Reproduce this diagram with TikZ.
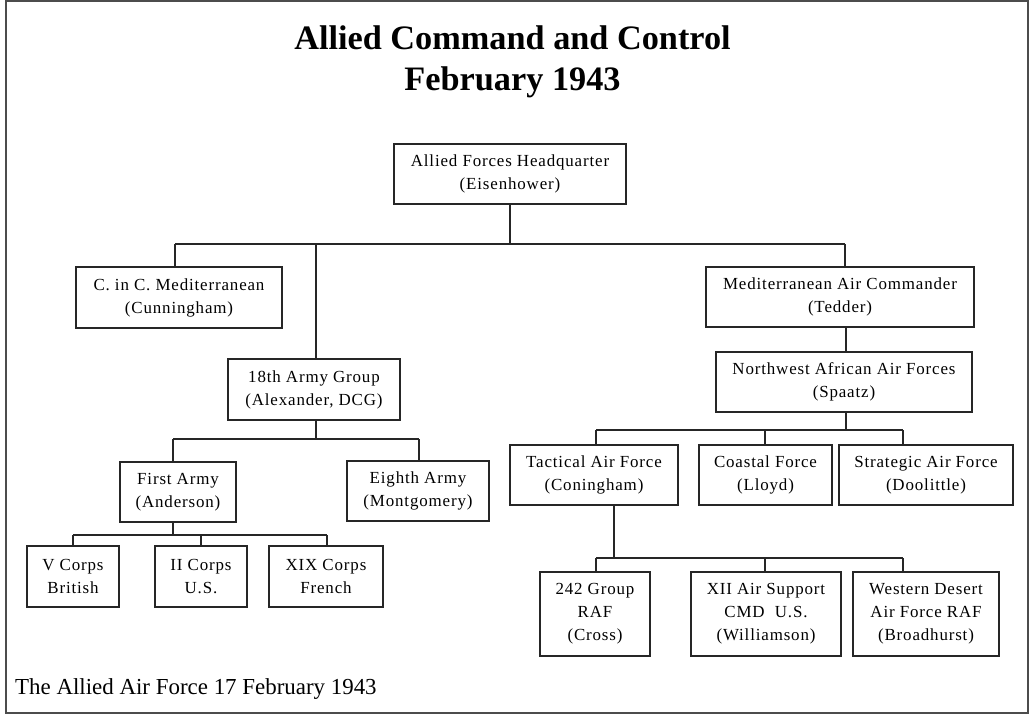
\documentclass[tikz,border=0pt]{standalone}
\usepackage{fontspec}
\setmainfont{Liberation Serif}
\newfontfamily\boxfont[LetterSpace=5]{Liberation Serif}
\begin{document}
\begin{tikzpicture}[x=1bp,y=-1bp,
  orgbox/.style={draw=black!85, line width=1.3bp, align=center, inner sep=0pt,
    font=\boxfont\fontsize{17}{23}\selectfont},
  sz/.style 2 args={minimum width=#1bp, minimum height=#2bp},
  conn/.style={draw=black!85, line width=1.2bp},
  frame/.style={draw=black!70, line width=2bp}]
\useasboundingbox (0,0) rectangle (1029,715);
\draw[frame] (6,1) rectangle (1028,713);
% title
\node[anchor=base, inner sep=0pt, font=\bfseries\fontsize{34.4}{40}\selectfont] (title1) at (512.5,50) {Allied Command and Control};
\node[anchor=base, inner sep=0pt, font=\bfseries\fontsize{34.4}{40}\selectfont] (title2) at (512.5,91) {February 1943};
% boxes
\node[orgbox, sz={232}{60}] (afhq) at (510,174) {Allied Forces Headquarter\\(Eisenhower)};
\node[orgbox, sz={206}{61}] (cinc) at (179,297.5) {C. in C. Mediterranean\\(Cunningham)};
\node[orgbox, sz={268}{60}] (med) at (840,297) {Mediterranean Air Commander\\(Tedder)};
\node[orgbox, sz={172}{61}] (ag18) at (314,389.5) {18th Army Group\\(Alexander, DCG)};
\node[orgbox, sz={256}{60}] (nwaaf) at (844,382) {Northwest African Air Forces\\(Spaatz)};
\node[orgbox, sz={116}{60}] (first) at (178,492) {First Army\\(Anderson)};
\node[orgbox, sz={142}{60}] (eighth) at (418,491) {Eighth Army\\(Montgomery)};
\node[orgbox, sz={92}{61}] (vc) at (73,576.5) {V Corps\\British};
\node[orgbox, sz={92}{61}] (iic) at (201,576.5) {II Corps\\U.S.};
\node[orgbox, sz={114}{61}] (xix) at (326,576.5) {XIX Corps\\French};
\node[orgbox, sz={168}{60}] (tac) at (594,475) {Tactical Air Force\\(Coningham)};
\node[orgbox, sz={133}{60}] (coast) at (765.5,475) {Coastal Force\\(Lloyd)};
\node[orgbox, sz={174}{60}] (strat) at (926,475) {Strategic Air Force\\(Doolittle)};
\node[orgbox, sz={110}{84}] (g242) at (595,614) {242 Group\\RAF\\(Cross)};
\node[orgbox, sz={150}{84}] (xii) at (766,614) {XII Air Support\\CMD~ U.S.\\(Williamson)};
\node[orgbox, sz={146}{84}] (wd) at (926,614) {Western Desert\\Air Force RAF\\(Broadhurst)};
% footer
\node[anchor=base west, inner sep=0pt, font=\fontsize{23}{27}\selectfont] (foot) at (15,694) {The Allied Air Force 17 February 1943};
% connectors: AFHQ
\coordinate (d11) at (175,244);
\coordinate (d12) at (316,244);
\coordinate (d13) at (845,244);
\draw[conn] (afhq.south) -- (afhq.south |- d11);
\draw[conn] (d11) -- (d13);
\draw[conn] (d11) -- (d11 |- cinc.north);
\draw[conn] (d12) -- (d12 |- ag18.north);
\draw[conn] (d13) -- (d13 |- med.north);
% Med -> NWAAF
\coordinate (v2) at (846,0);
\draw[conn] (v2 |- med.south) -- (v2 |- nwaaf.north);
% NWAAF
\coordinate (d21) at (596,430);
\coordinate (d22) at (765,430);
\coordinate (d23) at (903,430);
\draw[conn] (v2 |- nwaaf.south) -- (v2 |- d21);
\draw[conn] (d21) -- (d23);
\draw[conn] (d21) -- (d21 |- tac.north);
\draw[conn] (d22) -- (d22 |- coast.north);
\draw[conn] (d23) -- (d23 |- strat.north);
% Tactical
\coordinate (v3) at (614,0);
\coordinate (d31) at (596,558);
\coordinate (d32) at (765,558);
\coordinate (d33) at (903,558);
\draw[conn] (v3 |- tac.south) -- (v3 |- d31);
\draw[conn] (d31) -- (d33);
\draw[conn] (d31) -- (d31 |- g242.north);
\draw[conn] (d32) -- (d32 |- xii.north);
\draw[conn] (d33) -- (d33 |- wd.north);
% 18th Army Group
\coordinate (v4) at (316,0);
\coordinate (d41) at (173,439);
\coordinate (d42) at (419,439);
\draw[conn] (v4 |- ag18.south) -- (v4 |- d41);
\draw[conn] (d41) -- (d42);
\draw[conn] (d41) -- (d41 |- first.north);
\draw[conn] (d42) -- (d42 |- eighth.north);
% First Army
\coordinate (v5) at (173,0);
\coordinate (d51) at (73,535);
\coordinate (d52) at (201,535);
\coordinate (d53) at (327,535);
\draw[conn] (v5 |- first.south) -- (v5 |- d51);
\draw[conn] (d51) -- (d53);
\draw[conn] (d51) -- (d51 |- vc.north);
\draw[conn] (d52) -- (d52 |- iic.north);
\draw[conn] (d53) -- (d53 |- xix.north);
\end{tikzpicture}
\end{document}
